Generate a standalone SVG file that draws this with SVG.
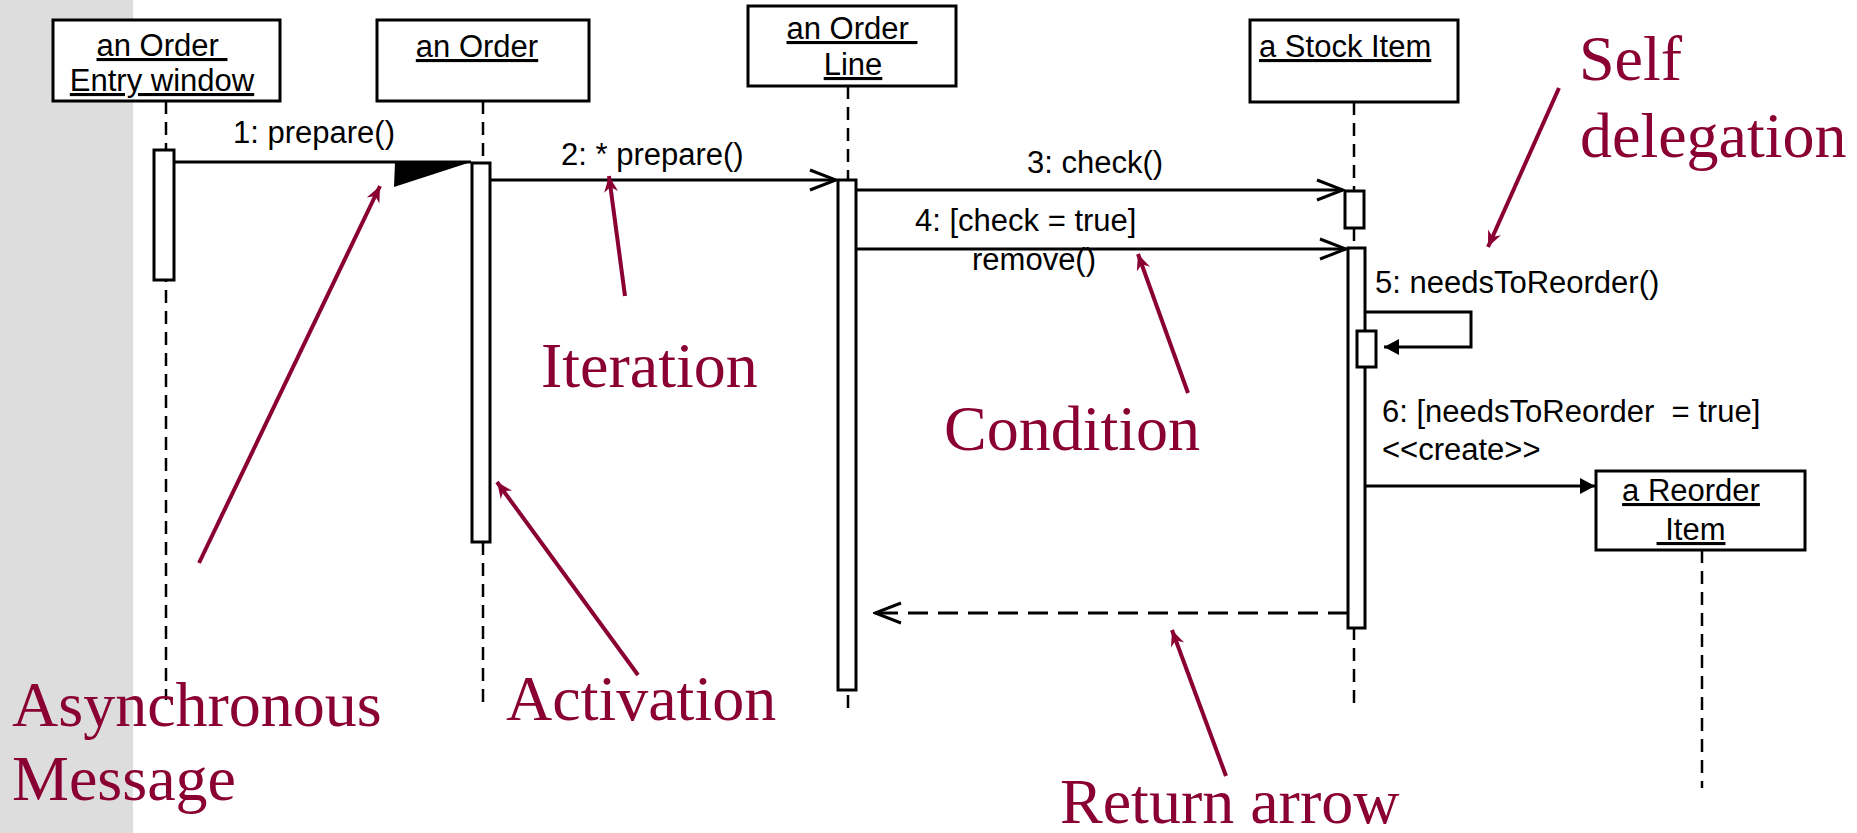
<svg xmlns="http://www.w3.org/2000/svg" width="1857" height="833" viewBox="0 0 1857 833">
  <style>
    .box { fill: #fff; stroke: #000; stroke-width: 3; }
    .act { fill: #fff; stroke: #000; stroke-width: 3; }
    .life { stroke: #000; stroke-width: 2.5; stroke-dasharray: 13 8; fill: none; }
    .msg { stroke: #000; stroke-width: 3; fill: none; }
    .ret { stroke: #000; stroke-width: 3; stroke-dasharray: 20 10; fill: none; }
    .lbl { font-family: "Liberation Sans", Arial, sans-serif; font-size: 31px; fill: #000; }
    .obj { font-family: "Liberation Sans", Arial, sans-serif; font-size: 31px; fill: #000; text-decoration: underline; }
    .note { font-family: "Liberation Serif", "Times New Roman", serif; font-size: 64px; fill: #8a0032; }
    .pointer { stroke: #8a0032; stroke-width: 4; fill: none; }
  </style>
  <defs>
    <marker id="open" viewBox="-30 -12 32 24" refX="0" refY="0" markerWidth="32" markerHeight="24" markerUnits="userSpaceOnUse" orient="auto">
      <path d="M-26,-10 L0,0 L-26,10" fill="none" stroke="#000" stroke-width="3"/>
    </marker>
    <marker id="solid" viewBox="-17 -10 19 20" refX="0" refY="0" markerWidth="19" markerHeight="20" markerUnits="userSpaceOnUse" orient="auto">
      <path d="M-15,-8 L0,0 L-15,8 Z" fill="#000"/>
    </marker>
    <marker id="pt" viewBox="-18 -9 20 18" refX="0" refY="0" markerWidth="20" markerHeight="18" markerUnits="userSpaceOnUse" orient="auto">
      <path d="M-16,-7 L0,0 L-16,7 L-11,0 Z" fill="#8a0032"/>
    </marker>
  </defs>

  <!-- slide margin -->
  <rect x="0" y="0" width="133" height="833" fill="#dddddd"/>

  <!-- lifelines -->
  <g id="lifelines">
    <line class="life" x1="166" y1="101" x2="166" y2="700"/>
    <line class="life" x1="483" y1="101" x2="483" y2="706"/>
    <line class="life" x1="848" y1="86" x2="848" y2="708"/>
    <line class="life" x1="1354" y1="102" x2="1354" y2="706"/>
    <line class="life" x1="1702" y1="550" x2="1702" y2="788"/>
  </g>

  <g id="entry-window">
    <rect class="box" x="53" y="20" width="227" height="81"/>
    <text class="obj" x="162" y="56" text-anchor="middle">an Order&#160;</text>
    <text class="obj" x="162" y="91" text-anchor="middle">Entry window</text>
    <rect class="act" x="154" y="150" width="20" height="130"/>
  </g>

  <g id="order">
    <rect class="box" x="377" y="20" width="212" height="81"/>
    <text class="obj" x="477" y="57" text-anchor="middle">an Order</text>
    <rect class="act" x="472" y="163" width="18" height="379"/>
  </g>

  <g id="order-line">
    <rect class="box" x="748" y="6" width="208" height="80"/>
    <text class="obj" x="852" y="39" text-anchor="middle">an Order&#160;</text>
    <text class="obj" x="853" y="75" text-anchor="middle">Line</text>
    <rect class="act" x="838" y="180" width="18" height="510"/>
  </g>

  <g id="stock-item">
    <rect class="box" x="1250" y="20" width="208" height="82"/>
    <text class="obj" x="1259" y="57">a Stock Item</text>
    <rect class="act" x="1345" y="191" width="19" height="37"/>
    <rect class="act" x="1348" y="248" width="17" height="380"/>
    <rect class="act" x="1357" y="331" width="19" height="36"/>
  </g>

  <g id="reorder-item">
    <rect class="box" x="1596" y="471" width="209" height="79"/>
    <text class="obj" x="1691" y="501" text-anchor="middle">a Reorder</text>
    <text class="obj" x="1691" y="540" text-anchor="middle">&#160;Item</text>
  </g>

  <!-- messages -->
  <g id="connectors">
    <line class="msg" x1="174" y1="162" x2="471" y2="162"/>
    <polygon points="471,162 395,162 394,187" fill="#000"/>
    <text class="lbl" x="314" y="143" text-anchor="middle">1: prepare()</text>

    <line class="msg" x1="490" y1="180" x2="836" y2="180" marker-end="url(#open)"/>
    <text class="lbl" x="561" y="165">2: * prepare()</text>

    <line class="msg" x1="856" y1="190" x2="1343" y2="190" marker-end="url(#open)"/>
    <text class="lbl" x="1095" y="173" text-anchor="middle">3: check()</text>

    <line class="msg" x1="856" y1="249" x2="1346" y2="249" marker-end="url(#open)"/>
    <text class="lbl" x="915" y="231">4: [check = true]</text>
    <text class="lbl" x="972" y="270">remove()</text>

    <path class="msg" d="M1365,312 H1471 V347 H1384" marker-end="url(#solid)"/>
    <text class="lbl" x="1375" y="293">5: needsToReorder()</text>

    <line class="msg" x1="1365" y1="486" x2="1595" y2="486" marker-end="url(#solid)"/>
    <text class="lbl" x="1382" y="422" xml:space="preserve">6: [needsToReorder  = true]</text>
    <text class="lbl" x="1382" y="460">&lt;&lt;create&gt;&gt;</text>

    <line class="ret" x1="1348" y1="613" x2="875" y2="613" marker-end="url(#open)"/>
  </g>

  <!-- annotations -->
  <g id="annotations">
    <line class="pointer" x1="199" y1="563" x2="380" y2="186" marker-end="url(#pt)"/>
    <line class="pointer" x1="625" y1="296" x2="609" y2="176" marker-end="url(#pt)"/>
    <line class="pointer" x1="1188" y1="393" x2="1138" y2="254" marker-end="url(#pt)"/>
    <line class="pointer" x1="638" y1="675" x2="497" y2="482" marker-end="url(#pt)"/>
    <line class="pointer" x1="1226" y1="776" x2="1172" y2="630" marker-end="url(#pt)"/>
    <line class="pointer" x1="1559" y1="88" x2="1488" y2="247" marker-end="url(#pt)"/>

    <text class="note" x="1579" y="80">Self</text>
    <text class="note" x="1580" y="157">delegation</text>
    <text class="note" x="541" y="387">Iteration</text>
    <text class="note" x="944" y="450">Condition</text>
    <text class="note" x="12" y="726">Asynchronous</text>
    <text class="note" x="12" y="800">Message</text>
    <text class="note" x="506" y="720">Activation</text>
    <text class="note" x="1060" y="823">Return arrow</text>
  </g>
</svg>
